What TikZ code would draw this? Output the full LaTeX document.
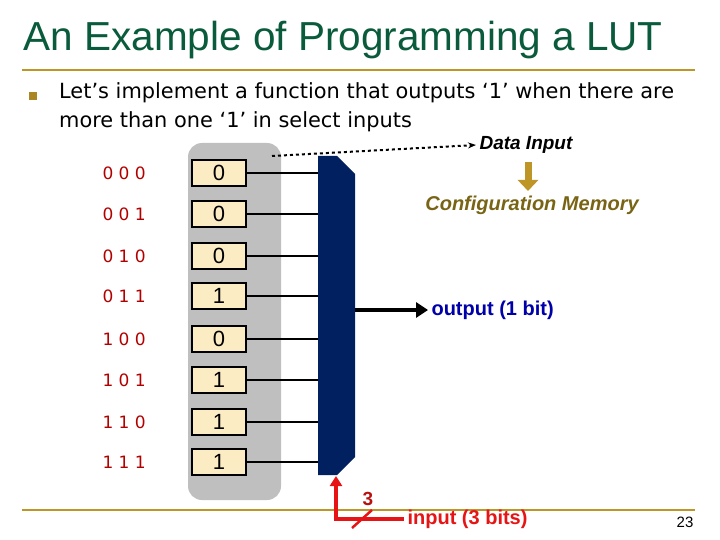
\documentclass[tikz,border=0pt]{standalone}
\usepackage{fontspec}
\setmainfont{Liberation Sans}
\newfontfamily\verd{DejaVu Sans}
\usetikzlibrary{arrows.meta}
\definecolor{ttl}{RGB}{10,90,60}
\definecolor{gld}{RGB}{190,150,40}
\definecolor{cfg}{RGB}{120,100,20}
\definecolor{navy}{RGB}{0,32,96}
\definecolor{boxf}{RGB}{252,236,196}
\definecolor{rd}{RGB}{230,20,20}
\definecolor{lbl}{RGB}{0,0,170}
\tikzset{bitbox/.style={draw,line width=1.2pt,fill=boxf,minimum width=54pt,minimum height=26pt,inner sep=0pt,font=\fontsize{22}{22}\selectfont},
bitlbl/.style={anchor=west,font=\verd\fontsize{17}{17}\selectfont,red!70!black},
blue lbl/.style={font=\bfseries\fontsize{20}{20}\selectfont,text=lbl}}
\begin{document}
\begin{tikzpicture}[x=1pt,y=-1pt]
\useasboundingbox (0,0) rectangle (720,540);
\node[anchor=west,text=ttl,font=\fontsize{40.5}{42}\selectfont] (title) at (20,40) {An Example of Programming a LUT};
\draw[gld,line width=2.5pt] (22,70) -- (695,70);
\draw[gld,line width=2pt] (22,510) -- (695,510);
\node[fill=gld!90!black,minimum size=8pt,inner sep=0pt] (bul) at (33,96) {};
\node[anchor=north west,align=left,inner sep=0pt,font=\verd\fontsize{20.9}{29}\selectfont] (txt) at (59,82) {Let’s implement a function that outputs ‘1’ when there are\\more than one ‘1’ in select inputs};
\fill[gray!50,rounded corners=14pt] (188,143) rectangle (281,500);
\path[fill=navy] (318,156) -- (337,156) -- (355,174) -- (355,457) -- (337,475) -- (318,475) -- cycle;
\coordinate (muxl) at (318,0);
\foreach \i/\y/\b/\v in {1/173/0 0 0/0,2/214/0 0 1/0,3/256/0 1 0/0,4/296/0 1 1/1,5/339/1 0 0/0,6/380/1 0 1/1,7/422/1 1 0/1,8/462/1 1 1/1}{
  \node[bitlbl] (s\i) at (99,\y) {\b};
  \node[bitbox] (b\i) at (219,\y) {\v};
  \draw[line width=2pt] (b\i.east) -- (b\i.east -| muxl);
}
\coordinate (dstart) at (272,156);
\node[anchor=west,font=\bfseries\itshape\fontsize{19}{19}\selectfont] (din) at (476,145) {Data Input};
\draw[dashed,line width=2pt,-{Stealth[length=8pt]}] (dstart) -- (din.west);
\coordinate (gt) at (528,162);
\coordinate (gb) at (528,191);
\draw[gld,line width=7pt,-{Triangle[length=11pt,width=20pt]}] (gt) -- (gb);
\node[font=\bfseries\itshape\fontsize{20}{20}\selectfont,text=cfg] (cfgm) at (532,205) {Configuration Memory};
\coordinate (oa) at (355,310);
\node[blue lbl,anchor=west] (out) at (428,310) {output (1 bit)};
\draw[line width=4pt,-{Triangle[length=12pt,width=15pt]}] (oa) -- (out.west);
\node[blue lbl,text=rd,anchor=west] (inp) at (404,519) {input (3 bits)};
\coordinate (corner) at (336,519);
\coordinate (mb) at (336,476);
\draw[rd,line width=4pt,-{Triangle[length=10pt,width=12pt]}] (inp.west) -- (corner) -- (mb);
\coordinate (sl1) at (352,528); \coordinate (sl2) at (372,510);
\draw[rd,line width=2.5pt] (sl1) -- (sl2);
\node[font=\bfseries\fontsize{19}{19}\selectfont,text=rd!80!black] (three) at (368,499) {3};
\node[font=\fontsize{15}{15}\selectfont] (pg) at (685,522) {23};
\end{tikzpicture}
\end{document}
